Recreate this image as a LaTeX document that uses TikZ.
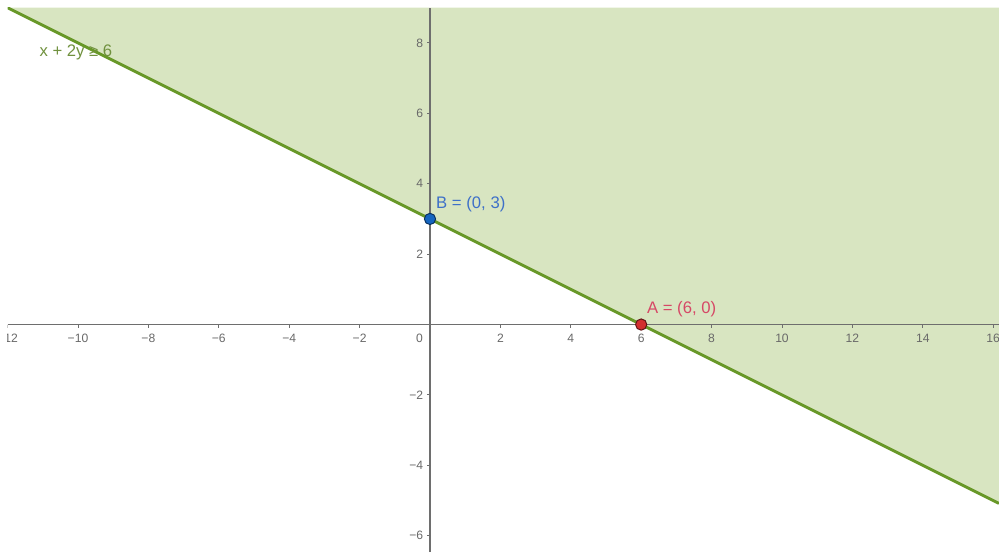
\documentclass[tikz,border=0pt]{standalone}
\usepackage{fontspec}
\setmainfont{Liberation Sans}
\definecolor{shadegreen}{RGB}{216,229,193}
\definecolor{linegreen}{RGB}{104,152,40}
\definecolor{labelgreen}{RGB}{112,145,62}
\definecolor{axisgray}{RGB}{110,110,110}
\definecolor{tickgray}{RGB}{105,105,105}
\definecolor{pointblue}{RGB}{21,101,192}
\definecolor{labelblue}{RGB}{62,112,200}
\definecolor{pointred}{RGB}{211,47,47}
\definecolor{labelred}{RGB}{214,72,102}
\tikzset{
  ticklabel/.style={text=tickgray, font=\fontsize{9.8}{11}\selectfont, inner sep=1pt},
  pointlabel/.style={font=\fontsize{13.5}{16}\selectfont, inner sep=0pt, anchor=west},
  axisline/.style={axisgray, line width=1.3pt},
}
\begin{document}
\begin{tikzpicture}[x=1cm,y=1cm]
  \useasboundingbox (-12.216,-6.468) rectangle (16.165,9.22);
  \begin{scope}
    \clip (-12,-6.468) rectangle (16.165,9);
    \fill[shadegreen] (-12,9) -- (16.165,-5.0825) -- (16.165,9) -- cycle;
    \draw[axisline] (-12,0) -- (16.165,0);
    \draw[axisline] (0,-6.468) -- (0,9);
    \foreach \x/\lab in {-12/−12,-10/−10,-8/−8,-6/−6,-4/−4,-2/−2,2/2,4/4,6/6,8/8,10/10,12/12,14/14,16/16} {
      \draw[axisgray, line width=0.8pt] (\x,0) -- (\x,-0.09);
      \node[ticklabel] at (\x,-0.38) {\lab};
    }
    \foreach \y/\lab in {-6/−6,-4/−4,-2/−2,2/2,4/4,6/6,8/8} {
      \draw[axisgray, line width=0.8pt] (0,\y) -- (-0.09,\y);
      \node[ticklabel, anchor=east] at (-0.15,\y) {\lab};
    }
    \node[ticklabel] (origin) at (-0.3,-0.38) {0};
    \draw[linegreen, line width=2.3pt] (-12,9) -- (16.165,-5.0825);
  \end{scope}
  \coordinate (A) at (6,0);
  \coordinate (B) at (0,3);
  \fill[pointblue, draw=pointblue!50!black, line width=0.8pt] (B) circle (0.16);
  \fill[pointred, draw=pointred!45!black, line width=0.8pt] (A) circle (0.16);
  \node[pointlabel, text=labelblue] (labB) at (0.17,3.43) {B = (0, 3)};
  \node[pointlabel, text=labelred] (labA) at (6.16,0.43) {A = (6, 0)};
  \node[pointlabel, text=labelgreen] (ineq) at (-11.1,7.74) {x + 2y ≥ 6};
\end{tikzpicture}
\end{document}
